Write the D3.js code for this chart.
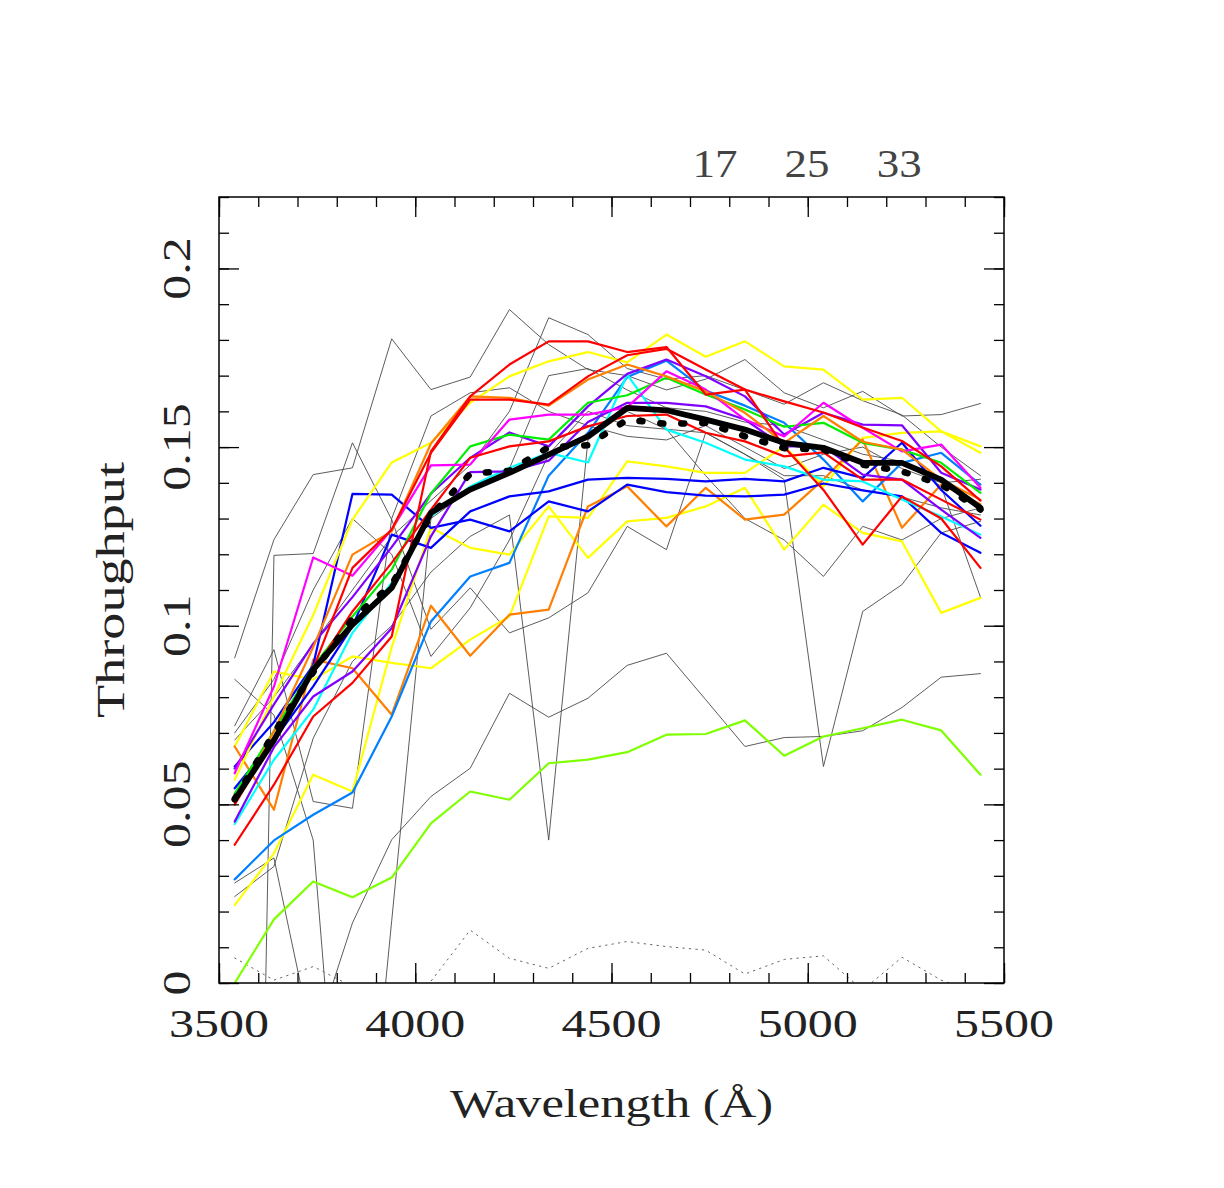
<!DOCTYPE html>
<html>
<head>
<meta charset="utf-8">
<script src="https://cdn.jsdelivr.net/npm/d3@7"></script>
<style>
  body { margin: 0; background: #fff; }
  svg { display: block; }
</style>
</head>
<body>
<svg id="chart"></svg>
<script>
// wavelength grid (Angstrom) shared by every curve
const wavelengths = [3540, 3640, 3740, 3840, 3940, 4040, 4140, 4240, 4340, 4440,
                     4540, 4640, 4740, 4840, 4940, 5040, 5140, 5240, 5340, 5440];

// individual fibre throughputs
const gray1 = [0.091, 0.1241, 0.1423, 0.1442, 0.1803, 0.1661, 0.1696, 0.1885, 0.1787, 0.1717, 0.1700, 0.1660, 0.1690, 0.1745, 0.1652, 0.1610, 0.1656, 0.1587, 0.1591, 0.1622];
const gray2 = [-0.45, 0.1197, 0.1202, 0.1512, 0.1297, 0.0990, 0.1106, 0.0980, 0.1022, 0.1092, 0.1278, 0.1213, 0.1540, 0.1480, 0.1409, 0.0606, 0.1040, 0.1115, 0.1260, 0.1292];
const gray3 = [0.028, 0.035, -0.017, 0.0168, 0.0401, 0.0522, 0.0601, 0.0811, 0.0744, 0.0797, 0.0889, 0.0923, 0.0793, 0.0662, 0.0687, 0.0690, 0.0706, 0.0771, 0.0856, 0.0866];
const gray4 = [0.072, 0.0933, 0.0508, 0.0489, 0.1300, 0.1587, 0.1652, 0.1666, 0.1600, 0.1560, 0.1530, 0.1520, 0.1560, 0.1500, 0.1440, 0.1480, 0.1500, 0.1440, 0.1400, 0.1410];
const gray5 = [0.0242, 0.0326, 0.0685, 0.0900, 0.1000, 0.1150, 0.1250, 0.1310, 0.0400, 0.1520, 0.1600, 0.1550, 0.1540, 0.1480, 0.1420, 0.1420, 0.1380, 0.1360, 0.1330, 0.1310];
const gray6 = [0.085, 0.075, 0.040, -0.095, 0.0174, 0.1300, 0.1380, 0.1440, 0.1700, 0.1720, 0.1660, 0.1610, 0.1600, 0.1570, 0.1560, 0.1520, 0.1480, 0.1460, 0.1390, 0.1080];
const gray7 = [0.068, 0.080, 0.095, 0.110, 0.125, 0.135, 0.145, 0.160, 0.1862, 0.1815, 0.1720, 0.1690, 0.1700, 0.1660, 0.1620, 0.1680, 0.1630, 0.1590, 0.1500, 0.1420];
const gray8 = [0.070, 0.085, 0.110, 0.130, 0.120, 0.0914, 0.1050, 0.1240, 0.1480, 0.1600, 0.1560, 0.1550, 0.1420, 0.1300, 0.1240, 0.1138, 0.1278, 0.1240, 0.1300, 0.1330];
const grayDotted = [0.007, 0.0008, 0.0046, -0.001, -0.008, 0.0005, 0.0148, 0.0069, 0.0041, 0.0097, 0.0116, 0.0102, 0.0092, 0.0025, 0.0066, 0.0076, -0.002, 0.0072, 0.0008, -0.003];

const yellow1 = [0.0569, 0.0802, 0.1030, 0.1297, 0.1457, 0.1512, 0.1624, 0.1698, 0.1740, 0.1766, 0.1737, 0.1815, 0.1753, 0.1796, 0.1726, 0.1717, 0.1633, 0.1638, 0.1544, 0.1484];
const yellow2 = [0.0218, 0.0363, 0.0583, 0.0536, 0.0940, 0.1274, 0.1218, 0.1199, 0.1334, 0.1190, 0.1292, 0.1302, 0.1334, 0.1386, 0.1213, 0.1339, 0.1260, 0.1236, 0.1036, 0.1078];
const yellow3 = [0.0662, 0.0872, 0.0849, 0.0914, 0.0896, 0.0881, 0.0961, 0.1026, 0.1306, 0.1302, 0.1460, 0.1446, 0.1428, 0.1428, 0.1502, 0.1390, 0.1526, 0.1540, 0.1544, 0.1502];
const orange1 = [0.0500, 0.0705, 0.0940, 0.1199, 0.1264, 0.1510, 0.1642, 0.1638, 0.1616, 0.1689, 0.1731, 0.1698, 0.1656, 0.1596, 0.1512, 0.1587, 0.1515, 0.1493, 0.1409, 0.1353];
const orange2 = [0.0662, 0.0485, 0.0905, 0.0881, 0.0751, 0.1056, 0.0916, 0.1031, 0.1045, 0.1334, 0.1390, 0.1278, 0.1386, 0.1297, 0.1311, 0.1409, 0.1521, 0.1274, 0.1395, 0.1340];
const red1 = [0.0387, 0.0555, 0.0746, 0.0840, 0.0970, 0.1488, 0.1642, 0.1731, 0.1796, 0.1796, 0.1766, 0.1780, 0.1647, 0.1661, 0.1628, 0.1597, 0.1555, 0.1517, 0.1446, 0.1350];
const red2 = [0.0500, 0.0680, 0.0880, 0.1162, 0.1269, 0.1484, 0.1633, 0.1633, 0.1619, 0.1698, 0.1757, 0.1775, 0.1717, 0.1661, 0.1500, 0.1380, 0.1227, 0.1362, 0.1300, 0.1162];
const red3 = [0.0520, 0.0680, 0.0870, 0.1040, 0.1176, 0.1325, 0.1470, 0.1502, 0.1516, 0.1558, 0.1587, 0.1591, 0.1540, 0.1516, 0.1474, 0.1485, 0.1409, 0.1409, 0.1353, 0.1297];
const blue1 = [0.0606, 0.0730, 0.0890, 0.1369, 0.1367, 0.1274, 0.1297, 0.1264, 0.1348, 0.1320, 0.1395, 0.1374, 0.1364, 0.1362, 0.1367, 0.1398, 0.1379, 0.1362, 0.1260, 0.1204];
const blue2 = [0.0545, 0.0680, 0.0830, 0.0998, 0.1255, 0.1218, 0.1320, 0.1362, 0.1376, 0.1409, 0.1414, 0.1411, 0.1404, 0.1411, 0.1404, 0.1442, 0.1414, 0.1512, 0.1380, 0.1280];
const dodger = [0.0290, 0.0399, 0.0471, 0.0533, 0.0746, 0.1012, 0.1138, 0.1176, 0.1420, 0.1540, 0.1696, 0.1742, 0.1658, 0.1616, 0.1568, 0.1465, 0.1348, 0.1456, 0.1484, 0.1395];
const cyan = [0.0445, 0.0625, 0.0765, 0.0980, 0.1120, 0.1306, 0.1390, 0.1442, 0.1484, 0.1457, 0.1703, 0.1549, 0.1512, 0.1465, 0.1446, 0.1409, 0.1404, 0.1353, 0.1306, 0.1255];
const green = [0.0530, 0.0705, 0.0886, 0.1026, 0.1157, 0.1370, 0.1502, 0.1535, 0.1521, 0.1624, 0.1645, 0.1694, 0.1647, 0.1605, 0.1557, 0.1568, 0.1512, 0.1493, 0.1456, 0.1372];
const lawn = [0.0000, 0.0178, 0.0284, 0.0240, 0.0295, 0.0447, 0.0536, 0.0513, 0.0615, 0.0625, 0.0646, 0.0695, 0.0697, 0.0735, 0.0636, 0.0690, 0.0713, 0.0737, 0.0707, 0.0583];
const magenta = [0.0587, 0.0830, 0.1191, 0.1140, 0.1269, 0.1449, 0.1451, 0.1577, 0.1591, 0.1591, 0.1612, 0.1712, 0.1661, 0.1577, 0.1530, 0.1624, 0.1554, 0.1488, 0.1507, 0.1386];
const purple1 = [0.0600, 0.0780, 0.0950, 0.1080, 0.1220, 0.1370, 0.1470, 0.1541, 0.1502, 0.1614, 0.1705, 0.1745, 0.1698, 0.1642, 0.1535, 0.1596, 0.1563, 0.1561, 0.1428, 0.1381];
const purple2 = [0.0452, 0.0660, 0.0802, 0.0872, 0.0993, 0.1250, 0.1430, 0.1432, 0.1462, 0.1570, 0.1624, 0.1624, 0.1614, 0.1577, 0.1502, 0.1502, 0.1423, 0.1409, 0.1325, 0.1246];

// the two averaged curves
const meanDotted = [0.0515, 0.0700, 0.0870, 0.1020, 0.1115, 0.1310, 0.1425, 0.1434, 0.1500, 0.1505, 0.1577, 0.1565, 0.1568, 0.1530, 0.1497, 0.1493, 0.1451, 0.1432, 0.1395, 0.1325];
const meanSolid = [0.0513, 0.0680, 0.0877, 0.1003, 0.1106, 0.1316, 0.1381, 0.1428, 0.1479, 0.1530, 0.1610, 0.1603, 0.1577, 0.1549, 0.1512, 0.1498, 0.1456, 0.1456, 0.1409, 0.1330];

// axis labels
const xTickValues = [3500, 4000, 4500, 5000, 5500];
const yTickValues = [0, 0.05, 0.1, 0.15, 0.2];
const yTickLabels = ["0", "0.05", "0.1", "0.15", "0.2"];
const topLabels = ["17", "25", "33"];
const topLabelWavelengths = [4764, 4998, 5233];

// drawing style for each curve (order = drawing order)
const series = [
    { values: gray1, color: "#4a4a4a", width: 0.9 },
    { values: gray2, color: "#4a4a4a", width: 0.9 },
    { values: gray3, color: "#4a4a4a", width: 0.9 },
    { values: gray4, color: "#4a4a4a", width: 0.9 },
    { values: gray5, color: "#4a4a4a", width: 0.9 },
    { values: gray6, color: "#4a4a4a", width: 0.9 },
    { values: gray7, color: "#4a4a4a", width: 0.9 },
    { values: gray8, color: "#4a4a4a", width: 0.9 },
    { values: grayDotted, color: "#666", width: 1, dash: "1.5,5" },
    { values: lawn, color: "#7fff00", width: 2.2 },
    { values: yellow2, color: "#ffff00", width: 2.2 },
    { values: yellow3, color: "#ffff00", width: 2.2 },
    { values: orange2, color: "#ff7f00", width: 2.2 },
    { values: dodger, color: "#0080ff", width: 2.2 },
    { values: blue1, color: "#0000ff", width: 2.2 },
    { values: blue2, color: "#0000ff", width: 2.2 },
    { values: yellow1, color: "#ffff00", width: 2.2 },
    { values: cyan, color: "#00ffff", width: 2.2 },
    { values: purple2, color: "#8000ff", width: 2.2 },
    { values: purple1, color: "#8000ff", width: 2.2 },
    { values: green, color: "#00ee00", width: 2.2 },
    { values: magenta, color: "#ff00ff", width: 2.2 },
    { values: orange1, color: "#ff7f00", width: 2.2 },
    { values: red3, color: "#ff0000", width: 2.2 },
    { values: red2, color: "#ff0000", width: 2.2 },
    { values: red1, color: "#ff0000", width: 2.2 },
    { values: meanDotted, color: "#000", width: 6.5, dash: "3,18" },
    { values: meanSolid, color: "#000", width: 5.8 }
];

const W = 1224, H = 1188;
const plot = { left: 219, right: 1004, top: 197, bottom: 983 };
const fontFamily = "'Liberation Serif', 'DejaVu Serif', serif";

const svg = d3.select("#chart")
    .attr("width", W)
    .attr("height", H);

const x = d3.scaleLinear().domain([3500, 5500]).range([plot.left, plot.right]);
const y = d3.scaleLinear().domain([0, 0.22]).range([plot.bottom, plot.top]);

svg.append("defs").append("clipPath")
    .attr("id", "plot-clip")
    .append("rect")
    .attr("x", plot.left)
    .attr("y", plot.top)
    .attr("width", plot.right - plot.left)
    .attr("height", plot.bottom - plot.top);

// curves
const line = d3.line()
    .x((d, i) => x(wavelengths[i]))
    .y(d => y(d));

const curves = svg.append("g").attr("clip-path", "url(#plot-clip)");

series.forEach(s => {
    curves.append("path")
        .datum(s.values)
        .attr("fill", "none")
        .attr("stroke", s.color)
        .attr("stroke-width", s.width)
        .attr("stroke-linejoin", "round")
        .attr("stroke-linecap", "round")
        .attr("stroke-dasharray", s.dash || null)
        .attr("d", line);
});

// inward ticks on all four sides
const xMinor = d3.range(3500, 5501, 100);
const yMinor = d3.range(0, 22).map(i => i * 0.01).concat([0.22]);
const yMajor = yTickValues;

function addTicks(axis, transform, values, size) {
    const g = svg.append("g")
        .attr("transform", transform)
        .call(axis.tickValues(values).tickSize(-size).tickFormat(""));
    g.select(".domain").remove();
    g.selectAll(".tick line").attr("stroke", "#000").attr("stroke-width", 1.3);
}

addTicks(d3.axisBottom(x), `translate(0,${plot.bottom})`, xMinor, 10);
addTicks(d3.axisBottom(x), `translate(0,${plot.bottom})`, xTickValues, 20);
addTicks(d3.axisTop(x), `translate(0,${plot.top})`, xMinor, 10);
addTicks(d3.axisTop(x), `translate(0,${plot.top})`, xTickValues, 20);
addTicks(d3.axisLeft(y), `translate(${plot.left},0)`, yMinor, 10);
addTicks(d3.axisLeft(y), `translate(${plot.left},0)`, yMajor, 20);
addTicks(d3.axisRight(y), `translate(${plot.right},0)`, yMinor, 10);
addTicks(d3.axisRight(y), `translate(${plot.right},0)`, yMajor, 20);

svg.append("rect")
    .attr("x", plot.left)
    .attr("y", plot.top)
    .attr("width", plot.right - plot.left)
    .attr("height", plot.bottom - plot.top)
    .attr("fill", "none")
    .attr("stroke", "#000")
    .attr("stroke-width", 1.5);

// labels (widths stretched to match the wide plotting font)
function labelWidth(s) {
    let w = 0;
    for (const c of s) w += (c === ".") ? 12.5 : 25;
    return w;
}

svg.selectAll(".xlabel")
    .data(xTickValues)
    .enter()
    .append("text")
    .attr("class", "xlabel")
    .attr("x", d => x(d))
    .attr("y", 1037)
    .attr("text-anchor", "middle")
    .attr("font-family", fontFamily)
    .attr("font-size", 40)
    .attr("fill", "#222")
    .attr("textLength", 100)
    .attr("lengthAdjust", "spacingAndGlyphs")
    .text(d => String(d));

svg.selectAll(".ylabel")
    .data(yTickValues)
    .enter()
    .append("text")
    .attr("class", "ylabel")
    .attr("transform", d => `translate(190,${y(d)}) rotate(-90)`)
    .attr("text-anchor", "middle")
    .attr("font-family", fontFamily)
    .attr("font-size", 40)
    .attr("fill", "#222")
    .attr("textLength", (d, i) => labelWidth(yTickLabels[i]))
    .attr("lengthAdjust", "spacingAndGlyphs")
    .text((d, i) => yTickLabels[i]);

svg.selectAll(".toplabel")
    .data(topLabels)
    .enter()
    .append("text")
    .attr("class", "toplabel")
    .attr("x", (d, i) => x(topLabelWavelengths[i]))
    .attr("y", 177)
    .attr("text-anchor", "middle")
    .attr("font-family", fontFamily)
    .attr("font-size", 40)
    .attr("fill", "#444")
    .attr("textLength", d => labelWidth(d) * 0.9)
    .attr("lengthAdjust", "spacingAndGlyphs")
    .text(d => d);

svg.append("text")
    .attr("x", (plot.left + plot.right) / 2)
    .attr("y", 1117)
    .attr("text-anchor", "middle")
    .attr("font-family", fontFamily)
    .attr("font-size", 40)
    .attr("fill", "#222")
    .attr("textLength", 323)
    .attr("lengthAdjust", "spacingAndGlyphs")
    .text("Wavelength (Å)");

svg.append("text")
    .attr("transform", `translate(124,${(plot.top + plot.bottom) / 2}) rotate(-90)`)
    .attr("text-anchor", "middle")
    .attr("font-family", fontFamily)
    .attr("font-size", 40)
    .attr("fill", "#222")
    .attr("textLength", 256)
    .attr("lengthAdjust", "spacingAndGlyphs")
    .text("Throughput");
</script>
</body>
</html>
